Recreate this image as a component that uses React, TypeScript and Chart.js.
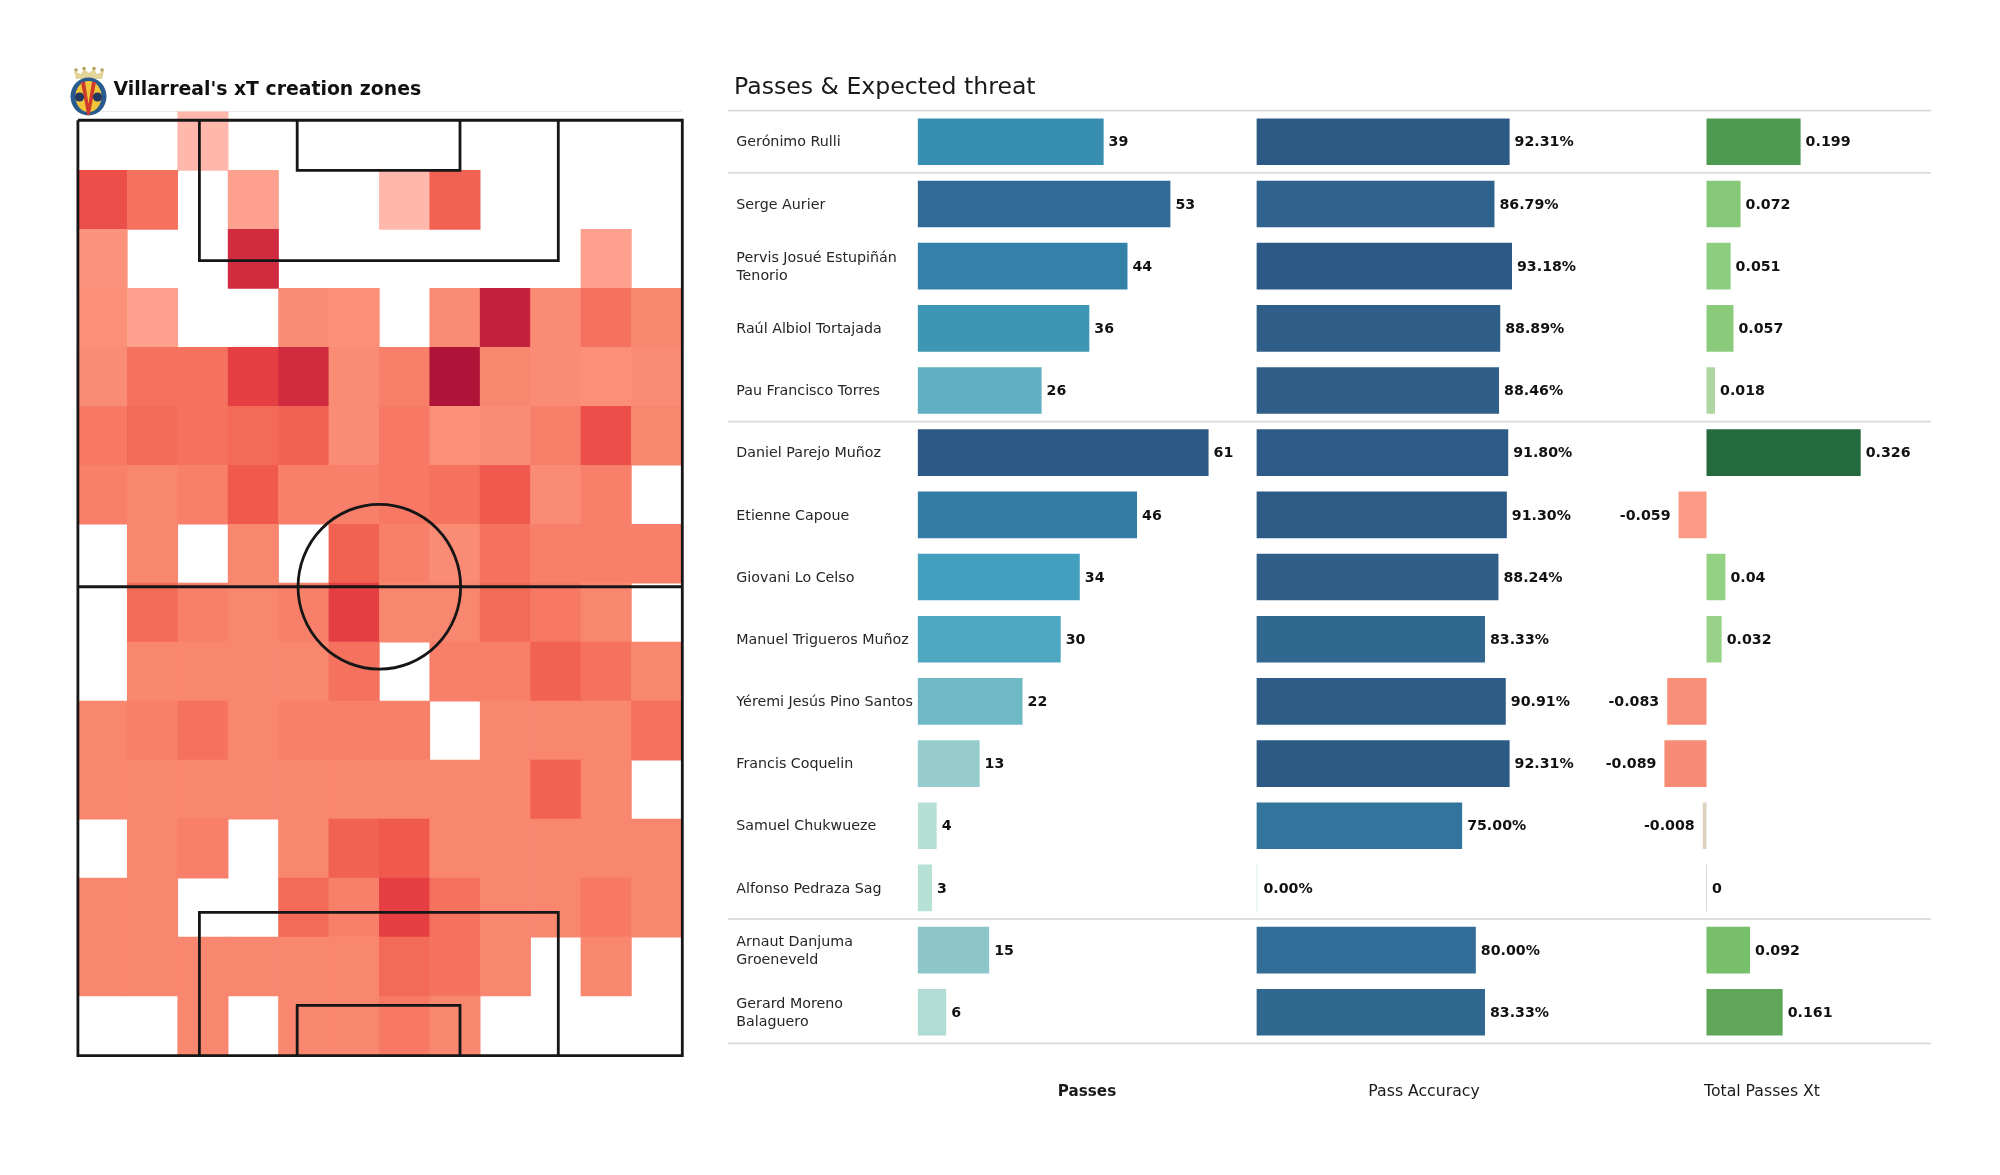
import React, { useEffect, useRef } from "react";
import { Chart, registerables } from "chart.js";

Chart.register(...registerables);

const FONT = '"DejaVu Sans"';

// ---------- table data ----------
const players: (string | string[])[] = [
  "Gerónimo Rulli",
  "Serge Aurier",
  ["Pervis Josué Estupiñán", "Tenorio"],
  "Raúl Albiol Tortajada",
  "Pau Francisco Torres",
  "Daniel Parejo Muñoz",
  "Etienne Capoue",
  "Giovani Lo Celso",
  "Manuel Trigueros Muñoz",
  "Yéremi Jesús Pino Santos",
  "Francis Coquelin",
  "Samuel Chukwueze",
  "Alfonso Pedraza Sag",
  ["Arnaut Danjuma", "Groeneveld"],
  ["Gerard Moreno", "Balaguero"],
];
const passes = [39, 53, 44, 36, 26, 61, 46, 34, 30, 22, 13, 4, 3, 15, 6];
const passAccuracy = [92.31, 86.79, 93.18, 88.89, 88.46, 91.8, 91.3, 88.24, 83.33, 90.91, 92.31, 75, 0, 80, 83.33];
const totalPassesXt = [0.199, 0.072, 0.051, 0.057, 0.018, 0.326, -0.059, 0.04, 0.032, -0.083, -0.089, -0.008, 0, 0.092, 0.161];
const groupBreaks = [0, 1, 5, 13, 15];

// ---------- heat map data: rows top to bottom, 12 zones across, 0 = no zone drawn ----------
const heat0 = [0, 0, 1, 0, 0, 0, 0, 0, 0, 0, 0, 0];
const heat1 = [8, 6, 0, 2, 0, 0, 1, 7, 0, 0, 0, 0];
const heat2 = [3, 0, 0, 10, 0, 0, 0, 0, 0, 0, 2, 0];
const heat3 = [3.5, 2, 0, 0, 4, 3.5, 0, 4, 11, 4, 6, 4.5];
const heat4 = [4, 6, 6, 9, 10, 4, 5, 12, 4.5, 4, 3.5, 4];
const heat5 = [5.5, 6.5, 6, 6.5, 7, 4, 5.5, 3.5, 4, 5, 8, 4.5];
const heat6 = [5, 4.5, 5, 7.5, 5, 5, 5.5, 6, 7.5, 4, 5, 0];
const heat7 = [0, 4.5, 0, 4.5, 0, 7, 5, 4, 6, 5, 5, 5];
const heat8 = [0, 6.5, 5, 4.5, 5, 9, 4.5, 4.5, 6.5, 5.5, 4.5, 0];
const heat9 = [0, 4.5, 4.5, 4.5, 4.5, 6, 0, 5, 5, 7, 6, 4.5];
const heat10 = [4.5, 5, 6, 4.5, 5, 5, 5, 0, 4.5, 4.5, 4.5, 6];
const heat11 = [4.5, 4.5, 4.5, 4.5, 4.5, 4.5, 4.5, 4.5, 4.5, 7, 4.5, 0];
const heat12 = [0, 4.5, 5, 0, 4.5, 7, 7.5, 4.5, 4.5, 4.5, 4.5, 4.5];
const heat13 = [4.5, 4.5, 0, 0, 6.5, 5, 9, 6, 4.5, 4.5, 5.5, 4.5];
const heat14 = [4.5, 4.5, 4.5, 4.5, 4.5, 4.5, 6.5, 6, 4.5, 0, 4.5, 0];
const heat15 = [0, 0, 4.5, 0, 4.5, 4.5, 5.5, 4.5, 0, 0, 0, 0];
const heatRows = [heat0, heat1, heat2, heat3, heat4, heat5, heat6, heat7, heat8, heat9, heat10, heat11, heat12, heat13, heat14, heat15];

// ---------- pitch markings, in zone units ----------
const pitchOutline = [[0.02, 0.15], [12.01, 0.15], [12.01, 16.01], [0.02, 16.01], [0.02, 0.15]];
const boxTop = [[2.43, 0.15], [2.43, 2.53], [9.55, 2.53], [9.55, 0.15]];
const sixTop = [[4.37, 0.15], [4.37, 1.0], [7.6, 1.0], [7.6, 0.15]];
const boxBottom = [[2.43, 16.01], [2.43, 13.58], [9.55, 13.58], [9.55, 16.01]];
const sixBottom = [[4.37, 16.01], [4.37, 15.16], [7.6, 15.16], [7.6, 16.01]];
const halfway = [[0.02, 8.06], [12.01, 8.06]];
const centreCircle = { x: 6, y: 8.06, rx: 1.613, ry: 1.398 };

// ---------- colour ramps ----------
type Stop = [number, string];
const heatStops: Stop[] = [
  [1, "#ffb8ab"], [2, "#fda18e"], [3, "#fc937c"], [4, "#fa8b74"], [5, "#f8806a"], [6, "#f5725f"],
  [7, "#f16252"], [8, "#ec4f49"], [9, "#e63f43"], [10, "#d12b3f"], [11, "#c3213c"], [12, "#af1338"],
];
const passStops: Stop[] = [
  [3, "#b7e0d6"], [6, "#b0dcd3"], [13, "#96cccd"], [15, "#8cc6cb"], [22, "#6fb9c4"], [26, "#60afc2"],
  [30, "#4da7c0"], [34, "#429fbd"], [36, "#3d97b4"], [39, "#388eb0"], [44, "#3381a8"], [46, "#337ca4"],
  [53, "#316a94"], [61, "#2c5985"],
];
const accuracyStops: Stop[] = [
  [0, "#cfe6e6"], [75, "#33749c"], [80, "#316d96"], [83.33, "#306890"], [86.79, "#2f628c"],
  [88.5, "#2f5f89"], [91.3, "#2d5b86"], [93.18, "#2c5985"],
];
const xtStops: Stop[] = [
  [-0.089, "#f88b75"], [-0.083, "#f98f78"], [-0.059, "#fa9a85"], [-0.008, "#dfd1bf"], [0, "#d8dcd4"],
  [0.018, "#add6a0"], [0.032, "#97d288"], [0.04, "#93d183"], [0.051, "#8ccd7f"], [0.057, "#8acb7b"],
  [0.072, "#85c878"], [0.092, "#78bf6c"], [0.161, "#60a658"], [0.199, "#4e9a51"], [0.326, "#246a3c"],
];

function ramp(stops: Stop[], v: number): string {
  if (v <= stops[0][0]) return stops[0][1];
  for (let i = 1; i < stops.length; i++) {
    if (v <= stops[i][0]) {
      const [a, ca] = stops[i - 1];
      const [b, cb] = stops[i];
      const t = (v - a) / (b - a);
      const p = (c: string, k: number) => parseInt(c.slice(k, k + 2), 16);
      const mix = (k: number) => Math.round(p(ca, k) + (p(cb, k) - p(ca, k)) * t);
      return `rgb(${mix(1)},${mix(3)},${mix(5)})`;
    }
  }
  return stops[stops.length - 1][1];
}

const toLine = (pts: number[][]) => ({
  type: "line" as const,
  data: pts.map(([x, y]) => ({ x, y })),
  borderColor: "#161616",
  borderWidth: 2.8,
  pointRadius: 0,
  fill: false,
  tension: 0,
  clip: false as any,
});

const heatCells: { x: number; y: [number, number]; v: number }[] = [];
heatRows.forEach((row, r) =>
  row.forEach((v, c) => {
    if (v > 0) heatCells.push({ x: c + 0.5, y: [r, r + 1], v });
  })
);

const pitchPlugin = {
  id: "pitchExtras",
  beforeDatasetsDraw(chart: any) {
    const { ctx, scales } = chart;
    ctx.save();
    ctx.strokeStyle = "#e8e8e8";
    ctx.lineWidth = 1;
    const py = scales.y.getPixelForValue(0);
    ctx.beginPath();
    ctx.moveTo(scales.x.getPixelForValue(0), py);
    ctx.lineTo(scales.x.getPixelForValue(12), py);
    ctx.stroke();
    ctx.restore();
  },
  afterDatasetsDraw(chart: any) {
    const { ctx, scales } = chart;
    const { x, y } = scales;
    ctx.save();
    // centre circle
    ctx.strokeStyle = "#161616";
    ctx.lineWidth = 2.8;
    ctx.beginPath();
    const cx = x.getPixelForValue(centreCircle.x);
    const cy = y.getPixelForValue(centreCircle.y);
    const rx = x.getPixelForValue(centreCircle.x + centreCircle.rx) - cx;
    const ry = y.getPixelForValue(centreCircle.y + centreCircle.ry) - cy;
    ctx.ellipse(cx, cy, rx, ry, 0, 0, Math.PI * 2);
    ctx.stroke();
    // heading
    ctx.fillStyle = "#111";
    ctx.font = `bold 18.85px ${FONT}`;
    ctx.textAlign = "left";
    ctx.textBaseline = "middle";
    ctx.fillText("Villarreal's xT creation zones", 113.5, 90);
    ctx.restore();
  },
};

const tablePlugin = {
  id: "tableExtras",
  beforeDatasetsDraw(chart: any) {
    const { ctx, scales } = chart;
    ctx.save();
    ctx.strokeStyle = "#dcdcdc";
    ctx.lineWidth = 1.8;
    groupBreaks.forEach((b) => {
      const py = scales.y.getPixelForValue(b - 0.5);
      ctx.beginPath();
      ctx.moveTo(28, py);
      ctx.lineTo(1231, py);
      ctx.stroke();
    });
    ctx.restore();
  },
  afterDatasetsDraw(chart: any) {
    const { ctx } = chart;
    ctx.save();
    ctx.fillStyle = "#111";
    ctx.textBaseline = "middle";
    ctx.font = `bold 14.2px ${FONT}`;
    chart.data.datasets.forEach((ds: any, di: number) => {
      const meta = chart.getDatasetMeta(di);
      meta.data.forEach((bar: any, i: number) => {
        const v = ds.data[i];
        const text = ds.format(v);
        if (v < 0) {
          ctx.textAlign = "right";
          ctx.fillText(text, bar.x - 8, bar.y + 1);
        } else {
          ctx.textAlign = "left";
          ctx.fillText(text, bar.x + (v === 0 ? 6 : 5), bar.y + 1);
        }
      });
    });
    ctx.fillStyle = "#1a1a1a";
    ctx.font = `23.6px ${FONT}`;
    ctx.textAlign = "left";
    ctx.fillText("Passes & Expected threat", 34, 87.5);
    ctx.restore();
  },
};

function axisTitle(text: string, weight: "bold" | "normal", size: number) {
  return {
    display: true,
    text,
    color: "#1a1a1a",
    padding: { top: 39, bottom: 0 },
    font: { family: FONT, size, weight, lineHeight: 1.2 },
  };
}

function valueAxis(min: number, max: number, weight: number, title: any) {
  return {
    type: "linear" as const,
    position: "bottom" as const,
    stack: "columns",
    stackWeight: weight,
    min,
    max,
    offset: false,
    grid: { display: false, drawTicks: false },
    border: { display: false },
    ticks: { display: false },
    title,
  };
}

export default function App() {
  const heatRef = useRef<HTMLCanvasElement>(null);
  const tableRef = useRef<HTMLCanvasElement>(null);

  useEffect(() => {
    const heatChart = new Chart(heatRef.current!, {
      type: "bar",
      data: {
        datasets: [
          toLine(pitchOutline),
          toLine(boxTop),
          toLine(sixTop),
          toLine(boxBottom),
          toLine(sixBottom),
          toLine(halfway),
          {
            type: "bar" as const,
            data: heatCells as any,
            backgroundColor: (c: any) => ramp(heatStops, c.raw?.v ?? 1),
            borderWidth: 0,
            barPercentage: 1,
            categoryPercentage: 1,
          },
        ] as any,
      },
      options: {
        responsive: false,
        animation: false,
        layout: { padding: { left: 76.9, right: 18.2, top: 111.4, bottom: 120 } },
        plugins: { legend: { display: false }, title: { display: false }, tooltip: { enabled: false } },
        scales: {
          x: { type: "linear", min: 0, max: 12, offset: false, display: false },
          y: { type: "linear", min: 0, max: 16, reverse: true, display: false },
        },
      },
      plugins: [pitchPlugin],
    });

    const tableChart = new Chart(tableRef.current!, {
      type: "bar",
      data: {
        labels: players as any,
        datasets: [
          {
            label: "Passes",
            data: passes,
            xAxisID: "x1",
            backgroundColor: passes.map((v) => ramp(passStops, v)),
            format: (v: number) => String(v),
          },
          {
            label: "Pass Accuracy",
            data: passAccuracy,
            xAxisID: "x2",
            backgroundColor: passAccuracy.map((v) => ramp(accuracyStops, v)),
            minBarLength: 1,
            format: (v: number) => v.toFixed(2) + "%",
          },
          {
            label: "Total Passes Xt",
            data: totalPassesXt,
            xAxisID: "x3",
            backgroundColor: totalPassesXt.map((v) => ramp(xtStops, v)),
            minBarLength: 1,
            format: (v: number) => String(v),
          },
        ] as any,
      },
      options: {
        responsive: false,
        animation: false,
        indexAxis: "y",
        layout: { padding: { left: 36.3, right: 67.6, top: 110.7, bottom: 74 } },
        datasets: { bar: { grouped: false, barPercentage: 0.75, categoryPercentage: 1, borderWidth: 0 } },
        plugins: { legend: { display: false }, title: { display: false }, tooltip: { enabled: false } },
        scales: {
          y: {
            type: "category",
            position: "left",
            grid: { display: false, drawTicks: false },
            border: { display: false },
            afterFit: (s: any) => {
              s.width = 181.3;
            },
            ticks: {
              autoSkip: false,
              crossAlign: "far",
              padding: 0,
              labelOffset: 1,
              color: "#262626",
              font: { family: FONT, size: 14.25, lineHeight: 1.24 },
            },
          },
          x1: valueAxis(0, 71.03, 338.8, axisTitle("Passes", "bold", 15.2)),
          x2: valueAxis(0, 122.2, 335.2, axisTitle("Pass Accuracy", "normal", 15.7)),
          x3: valueAxis(-0.2429, 0.4776, 340.8, axisTitle("Total Passes Xt", "normal", 15.7)),
        } as any,
      },
      plugins: [tablePlugin],
    });

    return () => {
      heatChart.destroy();
      tableChart.destroy();
    };
  }, []);

  return (
    <div style={{ position: "absolute", left: 0, top: 0, width: 2000, height: 1175, background: "#fff", overflow: "hidden" }}>
      <canvas ref={heatRef} width={700} height={1175} style={{ position: "absolute", left: 0, top: 0 }} />
      <canvas ref={tableRef} width={1300} height={1175} style={{ position: "absolute", left: 700, top: 0 }} />
      <svg width={42} height={52} viewBox="0 0 42 52" style={{ position: "absolute", left: 68, top: 66 }}>
        <path d="M8 13 L6 5 L13 8 L16 3 L21 7 L26 3 L29 8 L36 5 L34 13 Z" fill="#e3d59a" />
        <circle cx={8} cy={4} r={1.8} fill="#b8a15a" />
        <circle cx={16} cy={2.6} r={1.8} fill="#b8a15a" />
        <circle cx={26} cy={2.6} r={1.8} fill="#b8a15a" />
        <circle cx={34} cy={4} r={1.8} fill="#b8a15a" />
        <ellipse cx={20.5} cy={30.5} rx={18} ry={19} fill="#2a5b8f" />
        <ellipse cx={20.5} cy={30.5} rx={13} ry={15.5} fill="#f3c53a" />
        <path d="M13 16 L17 16 L20.5 38 L24 16 L28 16 L21.8 49 L19.2 49 Z" fill="#cf3a2e" />
        <circle cx={11.5} cy={31} r={4.6} fill="#23375f" />
        <circle cx={29.5} cy={31} r={4.6} fill="#23375f" />
      </svg>
    </div>
  );
}
